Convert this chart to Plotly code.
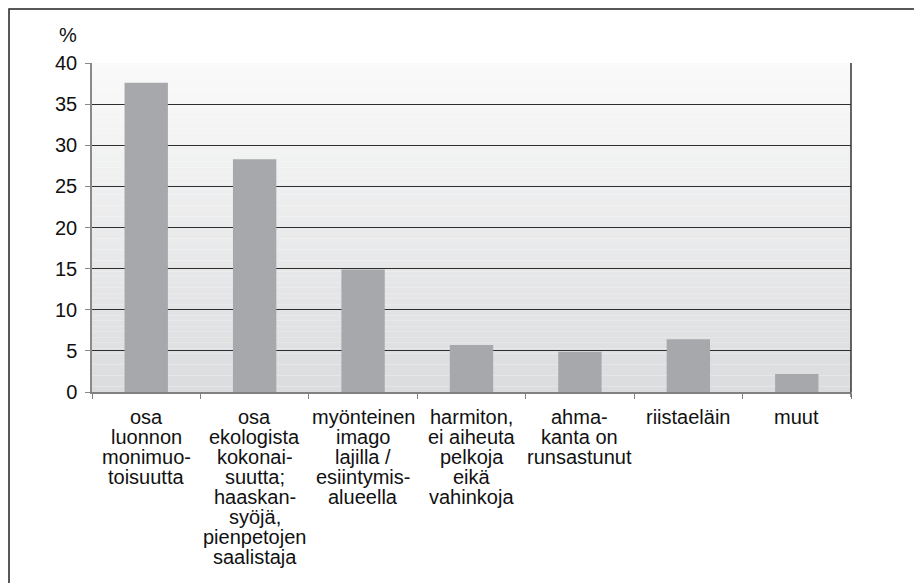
import plotly.graph_objects as go

categories = [
    "osa<br>luonnon<br>monimuo-<br>toisuutta",
    "osa<br>ekologista<br>kokonai-<br>suutta;<br>haaskan-<br>syöjä,<br>pienpetojen<br>saalistaja",
    "myönteinen<br>imago<br>lajilla /<br>esiintymis-<br>alueella",
    "harmiton,<br>ei aiheuta<br>pelkoja<br>eikä<br>vahinkoja",
    "ahma-<br>kanta on<br>runsastunut",
    "riistaeläin",
    "muut",
]
values = [37.6, 28.3, 14.9, 5.7, 4.9, 6.4, 2.2]
y_ticks = [0, 5, 10, 15, 20, 25, 30, 35, 40]
y_unit = "%"

FONT = "Liberation Sans, Arial, sans-serif"
TXT = "#111111"
FS = 20

# page is offset by the 8px body margin
W, H = 922, 583
L, R, T, B = 84, 79, 55, 199
pw, ph = W - L - R, H - T - B

fig = go.Figure()
fig.add_trace(go.Bar(
    x=categories, y=values,
    marker=dict(color="#a7a8ab", line=dict(width=0)),
    width=0.4, hoverinfo="x+y",
))

shapes = []
# vertical gradient background (top light -> bottom grey)
n = 60
c_top = (250, 250, 250)
c_bot = (219, 220, 222)
for i in range(n):
    f = (i + 0.5) / n
    c = tuple(round(c_top[k] + (c_bot[k] - c_top[k]) * f) for k in range(3))
    shapes.append(dict(type="rect", xref="x domain", yref="y domain",
                       x0=0, x1=1, y0=1 - (i + 1) / n, y1=1 - i / n,
                       fillcolor="rgb(%d,%d,%d)" % c, line=dict(width=0), layer="below"))
# right border of plot area
shapes.append(dict(type="line", xref="x domain", yref="y domain", x0=1, x1=1, y0=0, y1=1,
                   line=dict(color="#333333", width=1.5), layer="above"))
# right border short tick below axis
shapes.append(dict(type="line", xref="x domain", yref="paper", x0=1, x1=1, y0=0, y1=-5 / ph,
                   line=dict(color="#555555", width=1.2)))
# outer frame (left and top, rest outside the view)
fx = (1 - L) / pw
fy = (H - B - 1) / ph
shapes.append(dict(type="rect", xref="paper", yref="paper", x0=fx, x1=3, y0=-3, y1=fy,
                   line=dict(color="#222222", width=1.5), fillcolor="rgba(0,0,0,0)", layer="below"))

annotations = []
for cat in categories:
    for i, line in enumerate(cat.split("<br>")):
        annotations.append(dict(
            x=cat, xref="x", y=0, yref="y", text=line, showarrow=False,
            xanchor="center", yanchor="middle", yshift=-(25 + 20 * i),
            font=dict(family=FONT, size=FS, color=TXT),
        ))
annotations.append(dict(
    x=(60 - L) / pw, xref="paper", y=(H - B - 27) / ph, yref="paper",
    text=y_unit, showarrow=False, xanchor="center", yanchor="middle",
    font=dict(family=FONT, size=FS, color=TXT),
))

fig.update_layout(
    width=W, height=H,
    margin=dict(l=L, r=R, t=T, b=B),
    paper_bgcolor="white", plot_bgcolor="rgba(0,0,0,0)",
    showlegend=False, bargap=0.6,
    shapes=shapes, annotations=annotations,
    font=dict(family=FONT, size=FS, color=TXT),
)
fig.update_xaxes(
    type="category", range=[-0.5, 6.5],
    showticklabels=False, showgrid=False, zeroline=False,
    showline=True, linecolor="#808080", linewidth=1.5,
    ticks="outside", tickson="boundaries", ticklen=5, tickcolor="#808080", tickwidth=1.2,
)
fig.update_yaxes(
    range=[0, 40], tickvals=y_ticks, ticktext=[str(v) for v in y_ticks],
    showgrid=True, gridcolor="#2e2e2e", gridwidth=1.3, zeroline=False,
    showline=True, linecolor="#8a8a8a", linewidth=1.5,
    ticks="outside", ticklen=5, tickcolor="#8a8a8a", tickwidth=1.2,
    ticklabelstandoff=4,
    tickfont=dict(family=FONT, size=FS, color=TXT),
)

fig.write_html("out.html")
